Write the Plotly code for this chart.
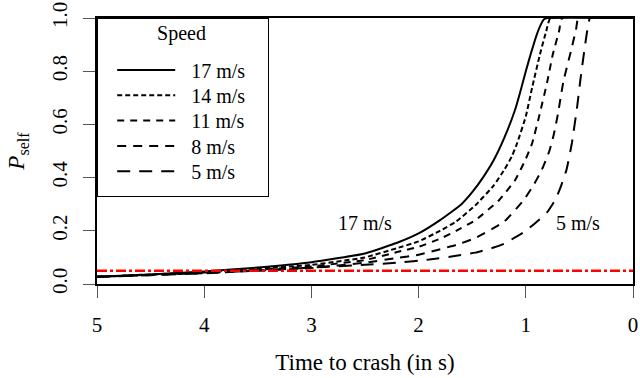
import plotly.graph_objects as go

# Probability of self-caused crash vs. time remaining before impact, per speed
speeds = ["17 m/s", "14 m/s", "11 m/s", "8 m/s", "5 m/s"]

t_17 = [5, 4.5, 4, 3.5, 3, 2.5, 2.2, 2.0, 1.8, 1.6, 1.5, 1.4, 1.3, 1.2, 1.1, 1.05, 1.0, 0.95, 0.9, 0.86, 0.83, 0.8, 0]
p_17 = [0.027, 0.036, 0.047, 0.062, 0.082, 0.115, 0.155, 0.19, 0.24, 0.30, 0.345, 0.40, 0.465, 0.55, 0.655, 0.725, 0.80, 0.87, 0.935, 0.975, 0.995, 1.0, 1.0]

t_14 = [5, 4, 3, 2.5, 2.2, 2.0, 1.8, 1.65, 1.47, 1.3, 1.2, 1.13, 1.08, 1.0, 0.94, 0.87, 0.81, 0.77, 0]
p_14 = [0.027, 0.045, 0.072, 0.10, 0.135, 0.16, 0.20, 0.235, 0.296, 0.37, 0.43, 0.48, 0.53, 0.63, 0.74, 0.86, 0.95, 1.0, 1.0]

t_11 = [5, 4, 3, 2.5, 2.2, 2.0, 1.8, 1.65, 1.47, 1.25, 1.1, 1.0, 0.94, 0.87, 0.8, 0.75, 0.69, 0.66, 0]
p_11 = [0.027, 0.043, 0.066, 0.09, 0.12, 0.14, 0.17, 0.20, 0.24, 0.315, 0.39, 0.47, 0.53, 0.64, 0.76, 0.86, 0.95, 1.0, 1.0]

t_8 = [5, 4, 3, 2.5, 2.2, 2.0, 1.65, 1.47, 1.2, 1.02, 0.93, 0.85, 0.78, 0.74, 0.7, 0.65, 0.57, 0.53, 0.51, 0]
p_8 = [0.027, 0.041, 0.06, 0.08, 0.098, 0.11, 0.147, 0.173, 0.235, 0.315, 0.37, 0.43, 0.50, 0.56, 0.64, 0.76, 0.89, 0.96, 1.0, 1.0]

t_5 = [5, 4, 3, 2.5, 2.2, 1.9, 1.65, 1.47, 1.3, 1.2, 1.1, 1.0, 0.9, 0.8, 0.72, 0.67, 0.62, 0.57, 0.52, 0.49, 0.45, 0.42, 0.40, 0]
p_5 = [0.027, 0.04, 0.062, 0.072, 0.08, 0.092, 0.106, 0.118, 0.137, 0.152, 0.175, 0.20, 0.233, 0.27, 0.32, 0.37, 0.43, 0.53, 0.67, 0.77, 0.89, 0.97, 1.0, 1.0]

threshold = 0.05
x_ticks = [5, 4, 3, 2, 1, 0]
y_ticks = [0.0, 0.2, 0.4, 0.6, 0.8, 1.0]

curves = [(t_17, p_17), (t_14, p_14), (t_11, p_11), (t_8, p_8), (t_5, p_5)]
dashes = ["solid", "5px,3px", "7px,6px", "9px,7px", "13px,9px"]

FONT = "Liberation Serif, serif"
TEXT_SIZE = 20
TICK_SIZE = 21
TITLE_SIZE = 23

fig = go.Figure()
for name, (t, p), dash in zip(speeds, curves, dashes):
    fig.add_trace(go.Scatter(
        x=t, y=p, mode="lines", name=name,
        line=dict(color="black", width=2, dash=dash, shape="spline", smoothing=0.4),
    ))

fig.add_trace(go.Scatter(
    x=[x_ticks[0], x_ticks[-1]], y=[threshold, threshold], mode="lines",
    line=dict(color="#ff0000", width=2.6, dash="10px,3px,3px,3px"),
    showlegend=False,
))

fig.add_annotation(x=2.5, y=0.23, text="17 m/s", showarrow=False,
                   font=dict(family=FONT, size=TEXT_SIZE, color="black"))
fig.add_annotation(x=0.51, y=0.23, text="5 m/s", showarrow=False,
                   font=dict(family=FONT, size=TEXT_SIZE, color="black"))

fig.update_layout(
    width=640, height=378,
    margin=dict(l=97, r=2, t=16, b=94),
    plot_bgcolor="white", paper_bgcolor="white",
    font=dict(family=FONT, size=TEXT_SIZE, color="black"),
    showlegend=True,
    legend=dict(
        x=0, y=1, xanchor="left", yanchor="top",
        bgcolor="white", bordercolor="black", borderwidth=1.2,
        title=dict(text="Speed", side="top center", font=dict(family=FONT, size=TEXT_SIZE)),
        itemwidth=83,
        font=dict(family=FONT, size=TEXT_SIZE),
    ),
    xaxis=dict(
        range=[5, 0], tickvals=x_ticks, ticktext=[str(v) for v in x_ticks],
        showgrid=False, zeroline=False,
        showline=True, linecolor="black", linewidth=1.5, mirror=True,
        ticks="outside", ticklen=12, tickwidth=1.3, tickcolor="#555",
        tickfont=dict(family=FONT, size=TICK_SIZE),
        ticklabelstandoff=9, ticklabeloverflow="allow",
        title=dict(text="Time to crash (in s)", standoff=18,
                   font=dict(family=FONT, size=TITLE_SIZE)),
    ),
    yaxis=dict(
        range=[0, 1], tickvals=y_ticks, tickformat=".1f",
        showgrid=False, zeroline=False,
        showline=True, linecolor="black", linewidth=1.5, mirror=True,
        ticks="outside", ticklen=12, tickwidth=1.3, tickcolor="#555",
        tickfont=dict(family=FONT, size=TICK_SIZE),
        tickangle=-90, ticklabelstandoff=8, ticklabeloverflow="allow",
        title=dict(text="<i>P</i><sub>self</sub>", standoff=17,
                   font=dict(family=FONT, size=TITLE_SIZE)),
    ),
)

# Legend tweaks: longer line samples, even row spacing under the title, fixed box size
post = """
var gd = document.getElementById('{plot_id}');
var lg = gd.querySelector('.legend');
lg.querySelectorAll('path.js-line').forEach(function(p){ p.setAttribute('d', 'M19,0h58'); });
lg.querySelectorAll('g.traces').forEach(function(g, i){
  var m = /translate\\(\\s*([-\\d.]+)[ ,]+([-\\d.]+)\\s*\\)/.exec(g.getAttribute('transform') || '');
  if (m) { g.setAttribute('transform', 'translate(' + m[1] + ',' + (52 + 25.3 * i) + ')'); }
});
var tt = lg.querySelector('.legendtitletext');
if (tt) { tt.setAttribute('transform', ((tt.getAttribute('transform') || '') + ' translate(7,-5)').trim()); }
function size(r){ r.setAttribute('width', 171); r.setAttribute('height', 178); }
var bg = lg.querySelector('rect.bg');
if (bg) { size(bg); }
gd.querySelectorAll('clipPath[id^="legend"] rect').forEach(size);
"""

fig.write_html("out.html", post_script=post)
